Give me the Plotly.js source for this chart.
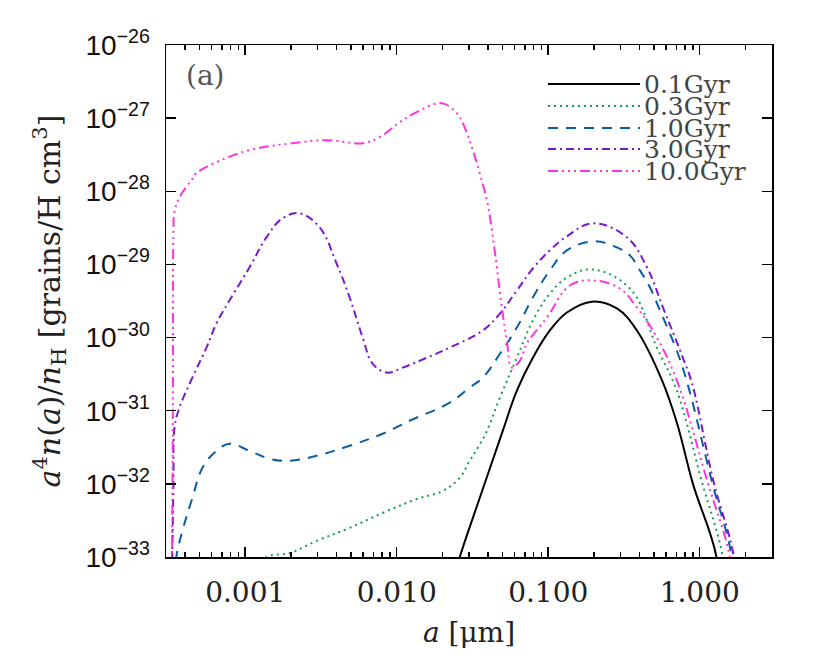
<!DOCTYPE html>
<html>
<head>
<meta charset="utf-8">
<script src="https://cdn.plot.ly/plotly-3.0.1.min.js"></script>
<style>
  html, body { margin: 0; padding: 0; background: #fff; }
  #plot { width: 830px; height: 656px; }
</style>
</head>
<body>
<div id="plot"></div>
<script>
// grain size a [um] and a^4 n(a)/n_H for each age
const ages = ['0.1Gyr', '0.3Gyr', '1.0Gyr', '3.0Gyr', '10.0Gyr'];

const a01 = [0.022, 0.02606, 0.0353, 0.0501, 0.0621, 0.0792, 0.1026, 0.1328, 0.1945, 0.284, 0.385, 0.564, 0.706, 0.902, 1.29, 1.4];
const n01 = [3e-34, 1e-33, 6.4e-33, 5.3e-32, 1.88e-31, 5.3e-31, 1.25e-30, 2.2e-30, 3.1e-30, 2.5e-30, 1.25e-30, 2.6e-31, 6.9e-32, 1.0e-32, 1e-33, 1e-34];

const a03 = [1.25e-3, 1.38e-3, 1.96e-3, 2.96e-3, 4.89e-3, 8.07e-3, 0.01355, 0.02014, 0.02606, 0.0303, 0.0343, 0.0394, 0.048, 0.0621, 0.0792, 0.1026, 0.1328, 0.1945, 0.346, 0.522, 0.706, 1.03, 1.42, 1.6];
const n03 = [7e-34, 1e-33, 1.13e-33, 1.66e-33, 2.5e-33, 4.0e-33, 6.2e-33, 8.0e-33, 1.21e-32, 2.07e-32, 3.11e-32, 5.3e-32, 1.51e-31, 5.3e-31, 1.71e-30, 4.0e-30, 6.6e-30, 8.55e-30, 4.69e-30, 7.3e-31, 1.88e-31, 1.1e-32, 1e-33, 1e-34];

const a10 = [3.45e-4, 3.51e-4, 3.85e-4, 4.48e-4, 5.22e-4, 6.46e-4, 7.87e-4, 1.067e-3, 1.45e-3, 1.96e-3, 2.96e-3, 4.89e-3, 8.07e-3, 0.01218, 0.0224, 0.0303, 0.037, 0.048, 0.0621, 0.0792, 0.1026, 0.1328, 0.203, 0.284, 0.346, 0.403, 0.47, 0.547, 0.706, 0.838, 1.2, 1.63, 1.8];
const n10 = [5e-34, 1e-33, 2.27e-33, 6.4e-33, 1.66e-32, 2.83e-32, 3.53e-32, 2.83e-32, 2.2e-32, 2.07e-32, 2.42e-32, 3.32e-32, 4.84e-32, 7.3e-32, 1.29e-31, 2.07e-31, 2.83e-31, 6.0e-31, 1.37e-30, 3.53e-30, 8.3e-30, 1.56e-29, 2.07e-29, 1.71e-29, 1.33e-29, 8.3e-30, 4.84e-30, 2.34e-30, 6.6e-31, 2.2e-31, 1.1e-32, 1e-33, 1e-34];

const a30 = [3.28e-4, 3.36e-4, 3.42e-4, 3.68e-4, 4.48e-4, 5.55e-4, 6.46e-4, 8.24e-4, 1.067e-3, 1.38e-3, 1.76e-3, 2.28e-3, 3.10e-3, 4.01e-3, 4.89e-3, 5.96e-3, 6.93e-3, 8.59e-3, 0.01094, 0.01578, 0.0224, 0.037, 0.048, 0.0621, 0.0792, 0.1026, 0.1328, 0.197, 0.331, 0.449, 0.572, 0.774, 0.891, 1.23, 1.68, 1.85];
const n30 = [5e-34, 1e-32, 6e-32, 1.1e-31, 2.83e-31, 7.3e-31, 1.56e-30, 3.76e-30, 9.1e-30, 2.34e-29, 4.27e-29, 5.0e-29, 3.21e-29, 1.03e-29, 3.53e-30, 1.0e-30, 4.4e-31, 3.32e-31, 3.88e-31, 5.3e-31, 7.3e-31, 1.25e-30, 2.13e-30, 4.41e-30, 8.8e-30, 1.56e-29, 2.42e-29, 3.65e-29, 2.34e-29, 9.1e-30, 2.58e-30, 5.3e-31, 2.34e-31, 1.1e-32, 1e-33, 1e-34];

const a100 = [3.28e-4, 3.33e-4, 3.36e-4, 3.40e-4, 3.68e-4, 4.42e-4, 4.76e-4, 6.46e-4, 1.067e-3, 2.05e-3, 3.44e-3, 5.96e-3, 7.71e-3, 0.01047, 0.01355, 0.0198, 0.0249, 0.0273, 0.0318, 0.0353, 0.0394, 0.0425, 0.0458, 0.0494, 0.0533, 0.0575, 0.065, 0.0723, 0.098, 0.139, 0.197, 0.297, 0.385, 0.522, 0.719, 1.12, 1.58, 1.75];
const n100 = [5e-34, 1e-31, 3.0e-29, 5.0e-29, 8.3e-29, 1.42e-28, 1.77e-28, 2.5e-28, 3.65e-28, 4.55e-28, 5.0e-28, 4.55e-28, 5.5e-28, 8.8e-28, 1.21e-27, 1.6e-27, 1.17e-27, 8.55e-28, 3.65e-28, 1.77e-28, 7.5e-29, 2.92e-29, 9.1e-30, 2.58e-30, 9.1e-31, 3.88e-31, 4.84e-31, 8.3e-31, 1.88e-30, 5.15e-30, 6.04e-30, 4.69e-30, 2.58e-30, 1.0e-30, 2.34e-31, 1.1e-32, 1e-33, 1e-34];

const xTickVals = [0.001, 0.01, 0.1, 1];
const xTickText = ['0.001', '0.010', '0.100', '1.000'];
const yExps = [-26, -27, -28, -29, -30, -31, -32, -33];

const colors = ['#000000', '#13a04c', '#0a5ea6', '#7a1bcb', '#ff33df'];
const dashes = ['solid', '2px,4px', '10px,8px', '8px,4px,2px,4px',
                '10px,4px,2px,4px,2px,4px,2px,4px'];
const xs = [a01, a03, a10, a30, a100];
const ys = [n01, n03, n10, n30, n100];

const traces = ages.map((name, i) => ({
    x: xs[i],
    y: ys[i],
    name: name,
    type: 'scatter',
    mode: 'lines',
    showlegend: false,
    line: {color: colors[i], width: 2, dash: dashes[i], shape: 'spline', smoothing: 1.1}
}));

// minor ticks 2..9 in every decade on the log x axis
const minorX = [];
for (let k = -4; k <= 0; k++) {
    for (let m = 2; m <= 9; m++) minorX.push(m * Math.pow(10, k));
}

// plot box in pixels, used to place the hand-made legend
const L = 166, R = 772, T = 45, B = 557;
const px = x => (x - L) / (R - L);
const py = y => (B - y) / (B - T);

const legendRows = [84, 106, 128, 149, 171];
const shapes = [];
const annotations = [];
ages.forEach((name, i) => {
    shapes.push({
        type: 'line', xref: 'paper', yref: 'paper',
        x0: px(548), x1: px(640), y0: py(legendRows[i]), y1: py(legendRows[i]),
        line: {color: colors[i], width: 2, dash: dashes[i]}
    });
    annotations.push({
        xref: 'paper', yref: 'paper', x: px(642), y: py(legendRows[i]),
        xanchor: 'left', yanchor: 'middle', showarrow: false,
        text: name,
        font: {family: 'DejaVu Serif', size: 25, color: '#444'}
    });
});
annotations.push({
    xref: 'paper', yref: 'paper', x: px(184), y: py(75),
    xanchor: 'left', yanchor: 'middle', showarrow: false,
    text: '(a)',
    font: {family: 'DejaVu Serif', size: 28, color: '#555'}
});

const layout = {
    width: 830,
    height: 656,
    margin: {l: L, r: 830 - R, t: T, b: 656 - B},
    paper_bgcolor: '#fff',
    plot_bgcolor: '#fff',
    showlegend: false,
    xaxis: {
        type: 'log',
        range: [Math.log10(3e-4), Math.log10(3)],
        tickmode: 'array',
        tickvals: xTickVals,
        ticktext: xTickText,
        ticks: 'inside',
        ticklen: 10,
        tickwidth: 1.5,
        tickcolor: '#000',
        minor: {tickmode: 'array', tickvals: minorX, ticks: 'inside', ticklen: 5, tickwidth: 1.5, tickcolor: '#000'},
        showline: true,
        linecolor: '#000',
        linewidth: 1.5,
        mirror: 'ticks',
        showgrid: false,
        zeroline: false,
        ticklabelstandoff: 10,
        tickfont: {family: 'DejaVu Serif', size: 28, color: '#222'},
        title: {
            text: '<i>a</i> [μm]',
            font: {family: 'DejaVu Serif', size: 28, color: '#222'},
            standoff: 14
        }
    },
    yaxis: {
        type: 'log',
        range: [-33, -26],
        tickmode: 'array',
        tickvals: yExps.map(e => Math.pow(10, e)),
        ticktext: yExps.map(e => '10<sup>−' + Math.abs(e) + '</sup>'),
        ticks: 'inside',
        ticklen: 10,
        tickwidth: 1.5,
        tickcolor: '#000',
        showline: true,
        linecolor: '#000',
        linewidth: 1.5,
        mirror: 'ticks',
        showgrid: false,
        zeroline: false,
        ticklabelstandoff: 9,
        tickfont: {family: 'Liberation Sans', size: 28, color: '#111'},
        title: {
            text: '<i>a</i><sup>4</sup><i>n</i>(<i>a</i>)/<i>n</i><sub>H</sub> [grains/H cm<sup>3</sup>]',
            font: {family: 'DejaVu Serif', size: 30, color: '#222'},
            standoff: 16
        }
    },
    shapes: shapes,
    annotations: annotations
};

Plotly.newPlot('plot', traces, layout, {staticPlot: true, displayModeBar: false});
</script>
</body>
</html>
